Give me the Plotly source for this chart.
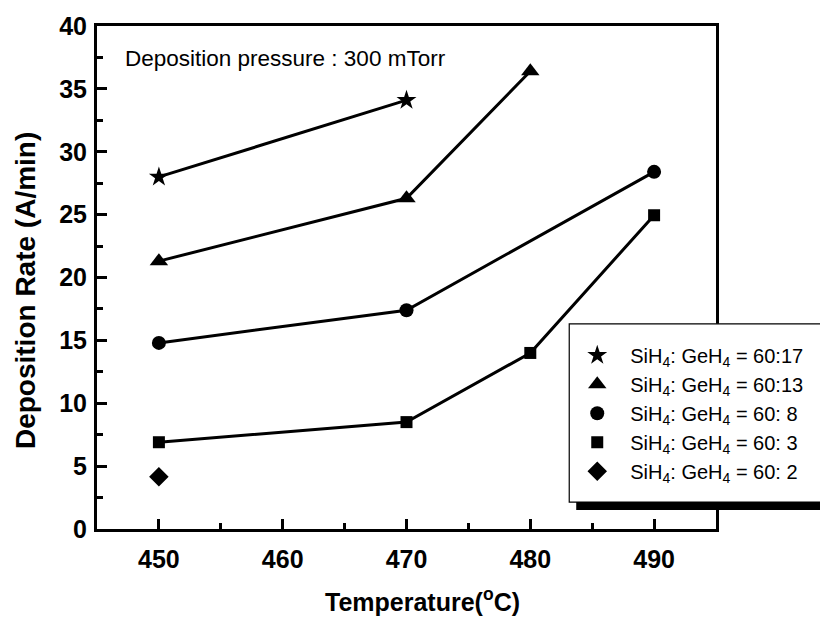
import plotly.graph_objects as go

# Deposition rate (A/min) versus substrate temperature for several SiH4:GeH4 flow ratios
temps_6017 = [450, 470]
rate_6017 = [28.0, 34.1]

temps_6013 = [450, 470, 480]
rate_6013 = [21.3, 26.3, 36.4]

temps_6008 = [450, 470, 490]
rate_6008 = [14.8, 17.4, 28.4]

temps_6003 = [450, 470, 480, 490]
rate_6003 = [6.9, 8.5, 14.0, 24.95]

temps_6002 = [450]
rate_6002 = [4.15]

series = [
    ("SiH<sub>4</sub>: GeH<sub>4</sub> = 60:17", temps_6017, rate_6017, "star", 15),
    ("SiH<sub>4</sub>: GeH<sub>4</sub> = 60:13", temps_6013, rate_6013, "triangle-up", 16),
    ("SiH<sub>4</sub>: GeH<sub>4</sub> = 60: 8", temps_6008, rate_6008, "circle", 14),
    ("SiH<sub>4</sub>: GeH<sub>4</sub> = 60: 3", temps_6003, rate_6003, "square", 12),
    ("SiH<sub>4</sub>: GeH<sub>4</sub> = 60: 2", temps_6002, rate_6002, "diamond", 15),
]

x_ticks = [450, 460, 470, 480, 490]
y_ticks = [0, 5, 10, 15, 20, 25, 30, 35, 40]

FONT = "Liberation Sans, Arial, sans-serif"

fig = go.Figure()

# connecting lines (not shown in legend)
for name, xs, ys, sym, sz in series:
    if len(xs) > 1:
        fig.add_trace(go.Scatter(
            x=xs, y=ys, mode="lines",
            line=dict(color="black", width=3),
            showlegend=False, hoverinfo="skip",
        ))

# markers with legend entries
for name, xs, ys, sym, sz in series:
    fig.add_trace(go.Scatter(
        x=xs, y=ys, mode="markers", name=name, legendgroup=name,
        marker=dict(symbol=sym, size=sz, color="black",
                    line=dict(width=0)),
    ))

W, H = 820, 617
L, R, T, B = 97, 103, 24, 88
pw, ph = W - L - R, H - T - B


def px_x(p):
    return (p - L) / pw


def px_y(p):
    return (H - B - p) / ph


axis_common = dict(
    showline=True, linecolor="black", linewidth=3, mirror=True,
    ticks="inside", ticklen=10, tickwidth=2.5, tickcolor="black",
    showgrid=False, zeroline=False,
    tickfont=dict(family=FONT, size=25, color="black", weight="bold"),
)

fig.update_xaxes(
    range=[445, 495], tickvals=x_ticks,
    minor=dict(dtick=5, ticks="inside", ticklen=6, tickwidth=2.5, tickcolor="black"),
    ticklabelstandoff=6,
    **axis_common,
)
fig.update_yaxes(
    range=[0, 40], tickvals=y_ticks,
    minor=dict(dtick=2.5, ticks="inside", ticklen=6, tickwidth=2.5, tickcolor="black"),
    ticklabelstandoff=2,
    **axis_common,
)

# legend frame with drop shadow
fig.add_shape(type="rect", xref="paper", yref="paper", layer="above",
              x0=px_x(577), x1=px_x(840), y0=px_y(510), y1=px_y(330),
              fillcolor="black", line=dict(width=0))
fig.add_shape(type="rect", xref="paper", yref="paper", layer="above",
              x0=px_x(570), x1=px_x(835), y0=px_y(502), y1=px_y(323),
              fillcolor="white", line=dict(color="black", width=1.2))

fig.add_annotation(
    text="Deposition pressure : 300 mTorr", xref="paper", yref="paper",
    x=px_x(123), y=px_y(57), xanchor="left", yanchor="middle",
    showarrow=False, font=dict(family=FONT, size=22.5, color="black"),
)
fig.add_annotation(
    text="Temperature(<sup>o</sup>C)", xref="paper", yref="paper",
    x=px_x(423), y=px_y(600), xanchor="center", yanchor="middle",
    showarrow=False, font=dict(family=FONT, size=25, color="black", weight="bold"),
)
fig.add_annotation(
    text="Deposition Rate (A/min)", xref="paper", yref="paper",
    x=px_x(26), y=px_y(290), xanchor="center", yanchor="middle", textangle=-90,
    showarrow=False, font=dict(family=FONT, size=28, color="black", weight="bold"),
)

fig.update_layout(
    width=W, height=H,
    margin=dict(l=L, r=R, t=T, b=B),
    paper_bgcolor="white", plot_bgcolor="white",
    showlegend=True,
    legend=dict(
        x=px_x(565), y=px_y(335), xanchor="left", yanchor="top",
        bgcolor="rgba(0,0,0,0)", borderwidth=0,
        font=dict(family=FONT, size=20, color="black"),
        tracegroupgap=0, traceorder="grouped", itemsizing="trace",
        itemwidth=56,
    ),
)

fig.write_html("out.html")
